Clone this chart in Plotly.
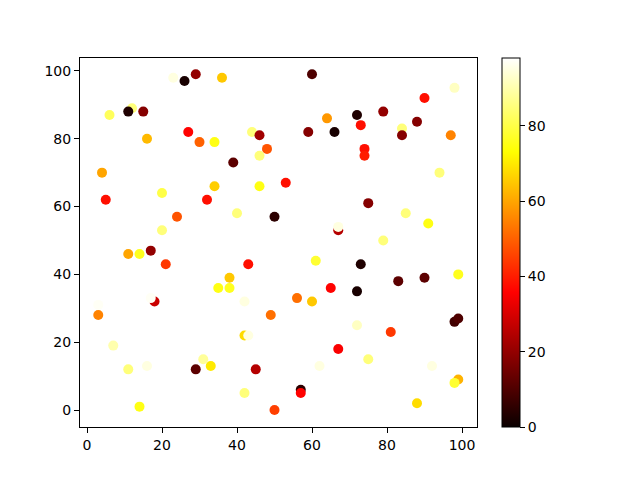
import plotly.graph_objects as go

x_vals = [23, 26, 29, 36, 12, 11, 15, 6, 16, 27, 30, 34, 4, 60, 64, 59, 66, 44, 46, 48,
          46, 39, 53, 46, 34, 98, 90, 79, 72, 73, 84, 84, 88, 97, 74, 74, 94, 20, 5, 32,
          24, 20, 11, 14, 17, 21, 35, 18, 17, 40, 50, 67, 67, 43, 61, 38, 38, 65, 42, 56,
          60, 75, 85, 91, 79, 73, 83, 90, 99, 72, 3, 3, 7, 11, 16, 14, 29, 31, 33, 49,
          42, 43, 67, 45, 62, 42, 57, 57, 50, 98, 99, 72, 81, 75, 92, 99, 98, 88]
y_vals = [98, 97, 99, 98, 89, 88, 88, 87, 80, 82, 79, 79, 70, 99, 86, 82, 82, 82, 81, 77,
          75, 73, 67, 66, 66, 95, 92, 88, 87, 84, 83, 81, 85, 81, 77, 75, 70, 64, 62, 62,
          57, 53, 46, 46, 47, 43, 36, 32, 33, 58, 57, 53, 54, 43, 44, 39, 36, 36, 32, 33,
          32, 61, 58, 55, 50, 43, 38, 39, 40, 35, 31, 28, 19, 12, 13, 1, 12, 15, 13, 28,
          22, 22, 18, 12, 13, 5, 6, 5, 0, 26, 27, 25, 23, 15, 13, 9, 8, 2]
c_vals = [95, 2, 20, 65, 85, 3, 18, 82, 63, 36, 50, 75, 60, 10, 58, 18, 2, 85, 22, 48,
          85, 12, 38, 75, 66, 92, 38, 20, 3, 38, 85, 18, 18, 55, 38, 40, 85, 80, 38, 38,
          48, 85, 60, 76, 20, 44, 75, 28, 97, 85, 5, 25, 95, 38, 78, 65, 76, 36, 95, 52,
          65, 18, 85, 75, 85, 3, 12, 12, 76, 2, 97, 55, 90, 85, 95, 75, 12, 88, 70, 52,
          68, 95, 35, 25, 95, 85, 5, 36, 45, 8, 10, 92, 44, 85, 95, 62, 78, 68]

x_ticks = [0, 20, 40, 60, 80, 100]
y_ticks = [0, 20, 40, 60, 80, 100]
cbar_ticks = [0, 20, 40, 60, 80]

hot = [[0.0, "rgb(10,0,0)"], [0.365, "rgb(255,0,0)"],
       [0.746, "rgb(255,255,0)"], [1.0, "rgb(255,255,255)"]]

fig = go.Figure(go.Scatter(
    x=x_vals, y=y_vals, mode="markers",
    marker=dict(size=10, color=c_vals, colorscale=hot, cmin=0, cmax=98,
                line=dict(width=0),
                colorbar=dict(x=1.063, xanchor="left", xpad=0, ypad=0,
                              y=0.5, yanchor="middle", len=1, lenmode="fraction",
                              thickness=18, outlinewidth=1, outlinecolor="black",
                              tickvals=cbar_ticks, ticks="outside", ticklen=5,
                              tickwidth=1, tickcolor="black",
                              tickfont=dict(size=14, color="black"))),
    showlegend=False,
))

axis_common = dict(showline=True, mirror=True, linecolor="black", linewidth=1,
                   ticks="outside", ticklen=5, tickwidth=1, tickcolor="black",
                   showgrid=False, zeroline=False,
                   tickfont=dict(size=14, color="black"))

fig.update_layout(
    width=640, height=480,
    margin=dict(l=72, r=171, t=50, b=61),
    paper_bgcolor="white", plot_bgcolor="white",
    font=dict(family="DejaVu Sans", size=14, color="black"),
    xaxis=dict(range=[-1.87, 104], tickvals=x_ticks, **axis_common),
    yaxis=dict(range=[-5.0, 103.8], tickvals=y_ticks, **axis_common),
)

fig.write_html("out.html")
